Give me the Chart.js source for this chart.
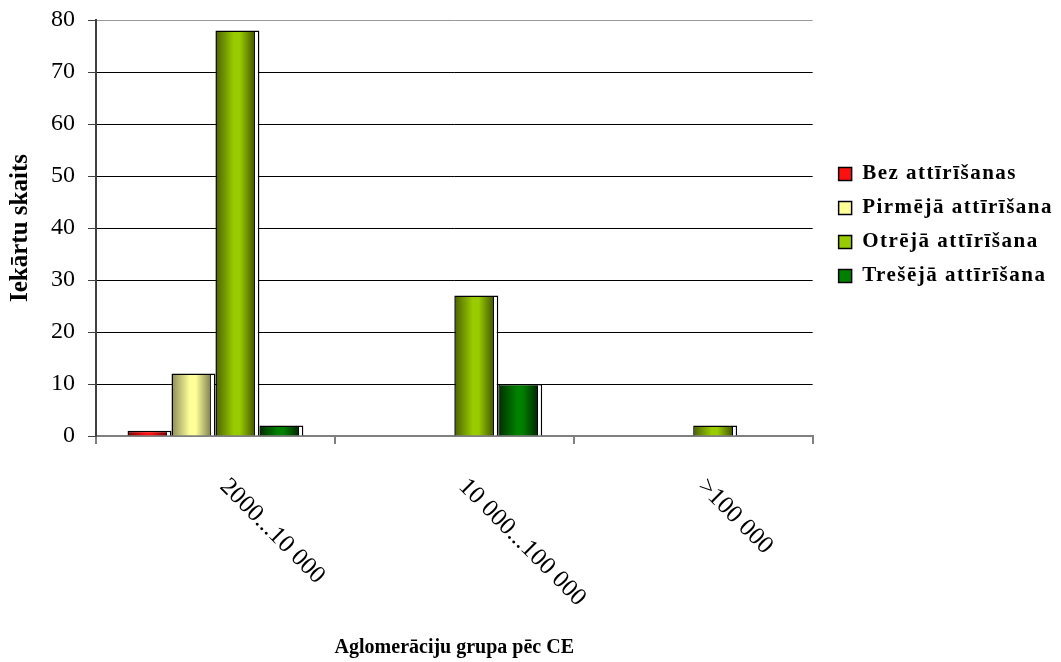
<!DOCTYPE html>
<html lang="lv">
<head>
  <meta charset="UTF-8">
  <title>Iekārtu skaits pa aglomerāciju grupām</title>
  <script src="https://cdn.jsdelivr.net/npm/chart.js"></script>
  <style>
    body { margin: 0; background: white; }
    canvas { display: block; }
  </style>
</head>
<body>
<canvas id="chart" width="1061" height="662"></canvas>

<script>
  // dati no attēla
  const categories = ["2000...10 000", "10 000...100 000", ">100 000"];
  const seriesNames = ["Bez attīrīšanas", "Pirmējā attīrīšana", "Otrējā attīrīšana", "Trešējā attīrīšana"];
  const bezValues = [1, 0, 0];
  const pirmejaValues = [12, 0, 0];
  const otrejaValues = [78, 27, 2];
  const tresejaValues = [2, 10, 0];
  const yTicks = [0, 10, 20, 30, 40, 50, 60, 70, 80];

  // krāsas: malas tumšākas, vidus gaišs
  const edgeColors = ["#7a0000", "#8a8a58", "#4a6000", "#002e00"];
  const lightColors = ["#ff1010", "#ffff99", "#99cc00", "#008000"];

  function barFill(i) {
    return function (c) {
      const el = c.element;
      if (!el || el.x == null || !isFinite(el.width) || !el.width) return lightColors[i];
      const left = el.x - el.width / 2;
      const g = c.chart.ctx.createLinearGradient(left, 0, left + el.width, 0);
      g.addColorStop(0, edgeColors[i]);
      g.addColorStop(0.42, lightColors[i]);
      g.addColorStop(0.55, lightColors[i]);
      g.addColorStop(0.87, edgeColors[i]);
      g.addColorStop(0.895, "#000000");
      g.addColorStop(0.9, "#ffffff");
      g.addColorStop(1, "#ffffff");
      return g;
    };
  }

  const allValues = [bezValues, pirmejaValues, otrejaValues, tresejaValues];
  const datasets = seriesNames.map((name, i) => ({
    label: name,
    data: allValues[i],
    backgroundColor: barFill(i),
    borderColor: "#000000",
    borderWidth: 1.5,
    categoryPercentage: 0.736,
    barPercentage: 1.0
  }));

  // x ass nosaukumi, pagriezti par +45°
  const xLabelsPlugin = {
    id: "xLabels",
    afterDraw(chart) {
      const ctx = chart.ctx;
      const sx = chart.scales.x;
      ctx.save();
      ctx.font = '25px "Liberation Serif"';
      ctx.fillStyle = "#000";
      ctx.textAlign = "left";
      ctx.textBaseline = "top";
      categories.forEach((lab, i) => {
        ctx.save();
        ctx.translate(sx.getPixelForValue(i) + 17, sx.top + 38);
        ctx.rotate(Math.PI / 4);
        ctx.fillText(lab, 0, 0);
        ctx.restore();
      });
      ctx.restore();
    }
  };

  // leģenda: platāka, mazliet pa labi, ar retinātiem burtiem
  const legendShift = {
    id: "legendShift",
    afterInit(chart) {
      const lg = chart.legend;
      if (!lg) return;
      const origFit = lg.fit;
      lg.fit = function () {
        origFit.apply(this, arguments);
        this.width += 35;
      };
      const origDraw = lg.draw;
      lg.draw = function () {
        const c = chart.ctx;
        c.save();
        c.translate(13, -3);
        c.letterSpacing = "1.5px";
        origDraw.apply(this, arguments);
        c.restore();
      };
    }
  };

  const ctx = document.getElementById("chart").getContext("2d");
  const chart = new Chart(ctx, {
    type: "bar",
    data: { labels: categories, datasets: datasets },
    options: {
      responsive: false,
      animation: false,
      layout: { padding: { top: 0, right: 3, left: 0, bottom: 0 } },
      plugins: {
        tooltip: { enabled: false },
        legend: {
          position: "right",
          fullSize: false,
          labels: {
            boxWidth: 13,
            boxHeight: 13,
            padding: 13,
            color: "#000",
            font: { family: '"Liberation Serif"', size: 21, weight: "bold" },
            generateLabels(chart) {
              return seriesNames.map((n, i) => ({
                text: n,
                fillStyle: lightColors[i],
                strokeStyle: "#000",
                lineWidth: 1.5,
                datasetIndex: i
              }));
            }
          }
        }
      },
      scales: {
        x: {
          grid: {
            offset: true,
            drawOnChartArea: false,
            drawTicks: true,
            tickLength: 8,
            color: "#808080",
            lineWidth: 2
          },
          border: { color: "#808080", width: 2 },
          ticks: { display: false },
          title: {
            display: true,
            text: "Aglomerāciju grupa pēc CE",
            color: "#000",
            font: { family: '"Liberation Serif"', size: 20, weight: "bold" },
            padding: { top: 0, bottom: 2 }
          },
          afterFit(scale) { scale.height = 226; }
        },
        y: {
          min: 0,
          max: 80,
          afterBuildTicks(scale) { scale.ticks = yTicks.map(v => ({ value: v })); },
          grid: {
            color: c => (c.tick && (c.tick.value === 80 || c.tick.value === 0)) ? "#9a9a9a" : "#000000",
            tickColor: "#404040",
            lineWidth: 1,
            tickLength: 8
          },
          border: { color: "#404040", width: 2 },
          ticks: {
            color: "#000",
            padding: 13,
            font: { family: '"Liberation Serif"', size: 24 }
          },
          title: {
            display: true,
            text: "Iekārtu skaits",
            color: "#000",
            font: { family: '"Liberation Serif"', size: 25, weight: "bold" },
            padding: { top: 6, bottom: 0 }
          },
          afterFit(scale) {
            scale.width = 96;
            scale.paddingTop = 20;
            scale.paddingBottom = 10;
          }
        }
      }
    },
    plugins: [xLabelsPlugin, legendShift]
  });
  // otrreiz, lai gradienti zinātu stabiņu vietu
  chart.update();
</script>
</body>
</html>
